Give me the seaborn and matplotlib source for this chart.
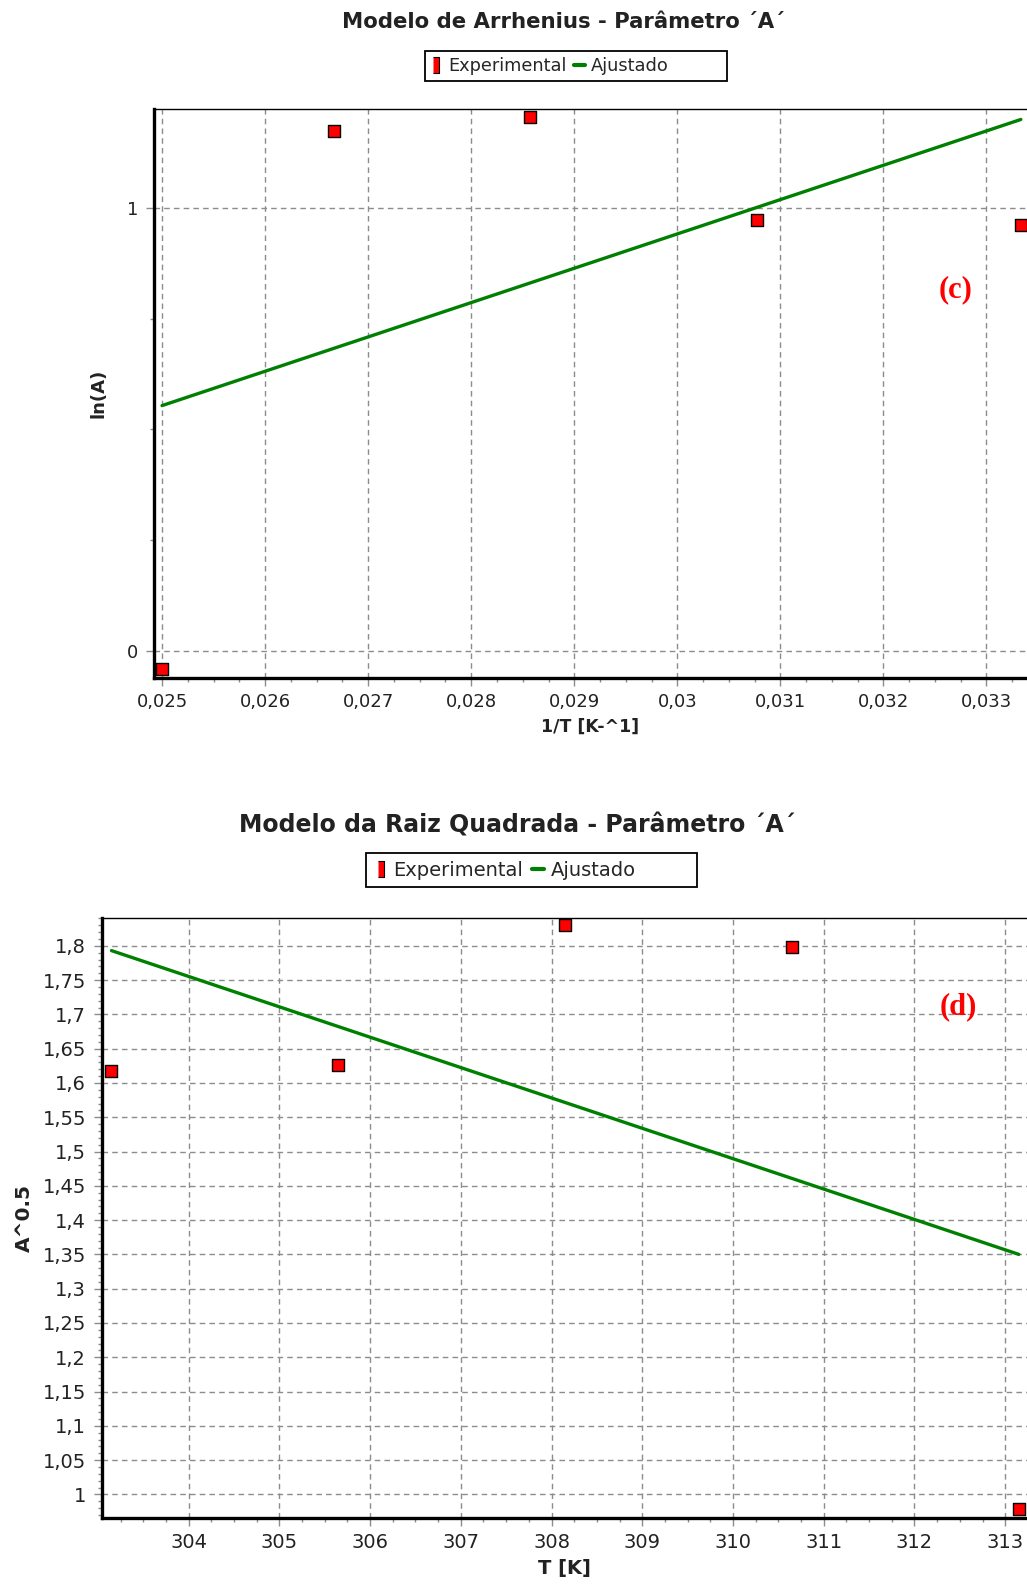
import numpy as np
import pandas as pd
import matplotlib
matplotlib.use("Agg")
import matplotlib.pyplot as plt
from matplotlib.ticker import MultipleLocator, FuncFormatter
from matplotlib.lines import Line2D
from matplotlib.patches import Rectangle
import seaborn as sns

# --- Arrhenius model: ln(A) vs 1/T ---
inv_T = [1 / 40, 1 / 37.5, 1 / 35, 1 / 32.5, 1 / 30]
ln_A = [-0.041, 1.174, 1.206, 0.973, 0.963]
inv_T_fit = [0.025, 1 / 30]
ln_A_fit = [0.554, 1.201]

# --- Square-root model: A^0.5 vs T ---
T_K = [303.15, 305.65, 308.15, 310.65, 313.15]
sqrt_A = [1.617, 1.626, 1.831, 1.798, 0.978]
T_fit = [303.15, 313.15]
sqrt_A_fit = [1.793, 1.350]

sns.set_style("white")
plt.rcParams["font.family"] = ["DejaVu Sans"]

W, H = 1027, 1587
fig = plt.figure(figsize=(W / 100, H / 100), dpi=100)

RED = "#ff0000"
GREEN = "#008000"
GRID = "#8c8c8c"
TXT = "#222222"


def axes_px(left, top, right, bottom):
    return fig.add_axes([left / W, 1 - bottom / H, (right - left) / W, (bottom - top) / H])


def comma(v, pos=None):
    s = f"{round(v, 4):g}"
    return s.replace(".", ",")


def style_axes(ax, tick_size):
    for side in ("left", "bottom"):
        ax.spines[side].set_linewidth(2.4)
        ax.spines[side].set_color("black")
    ax.spines["top"].set_linewidth(1.0)
    ax.spines["top"].set_color("black")
    ax.spines["right"].set_visible(False)
    ax.grid(True, which="major", color=GRID, linestyle=(0, (4, 3)), linewidth=1.0)
    ax.tick_params(which="major", direction="out", length=6, width=1, color=GRID,
                   labelsize=tick_size, labelcolor=TXT, pad=5)
    ax.tick_params(which="minor", direction="out", length=3, width=1, color=GRID)
    ax.tick_params(left=True, bottom=True, which="both")
    ax.xaxis.set_major_formatter(FuncFormatter(comma))
    ax.yaxis.set_major_formatter(FuncFormatter(comma))
    ax.set_axisbelow(True)


def make_legend(x_left, box, size):
    # box: left, top, right, bottom in pixels
    l, t, r, b = box
    fig.patches.append(Rectangle((l / W, 1 - b / H), (r - l) / W, (b - t) / H,
                                 transform=fig.transFigure, fill=False,
                                 edgecolor="black", linewidth=1.3))
    handles = [
        Line2D([], [], linestyle="none",
               marker=[(-0.35, -1), (0.35, -1), (0.35, 1), (-0.35, 1)],
               markersize=size * 0.85, markerfacecolor=RED, markeredgecolor="black",
               markeredgewidth=0.8),
        Line2D([], [], color=GREEN, linewidth=3),
    ]
    fig.legend(handles, ["Experimental", "Ajustado"], loc="center left",
               bbox_to_anchor=(x_left / W, 1 - (t + b) / 2 / H), ncol=2,
               fontsize=size, frameon=False, handlelength=0.6,
               handletextpad=0.35, columnspacing=0.45, borderpad=0,
               borderaxespad=0)


# ---------------- top panel ----------------
ax1 = axes_px(153.8, 109.3, 1027, 678)
df1 = pd.DataFrame({"x": inv_T, "y": ln_A})
fit1 = pd.DataFrame({"x": inv_T_fit, "y": ln_A_fit})
sns.lineplot(data=fit1, x="x", y="y", ax=ax1, color=GREEN, linewidth=2.4, zorder=3)
sns.scatterplot(data=df1, x="x", y="y", ax=ax1, marker="s", s=75, color=RED,
                edgecolor="black", linewidth=1.0, zorder=4)
ax1.set_xlim(0.02492, 0.033393)
ax1.set_ylim(-0.062, 1.224)
ax1.xaxis.set_major_locator(MultipleLocator(0.001))
ax1.xaxis.set_minor_locator(MultipleLocator(0.00025))
ax1.yaxis.set_major_locator(MultipleLocator(1))
ax1.yaxis.set_minor_locator(MultipleLocator(0.25))
style_axes(ax1, 13)
ax1.set_xlabel("1/T [K-^1]", fontsize=12.5, fontweight="bold", labelpad=5, color=TXT)
ax1.set_ylabel("ln(A)", fontsize=13, fontweight="bold", labelpad=14, color=TXT)

fig.text(563 / W, 1 - 22 / H, "Modelo de Arrhenius - Parâmetro ´A´", ha="center",
         va="center", fontsize=15.3, fontweight="bold", color=TXT)
make_legend(431, (425, 50.6, 726.5, 81), 12.8)
fig.text(956 / W, 1 - 290 / H, "(c)", ha="center", va="center", color=RED,
         fontsize=22, fontweight="bold", family=["Liberation Serif", "DejaVu Serif"])

# ---------------- bottom panel ----------------
ax2 = axes_px(101.5, 917.7, 1027, 1517.7)
df2 = pd.DataFrame({"x": T_K, "y": sqrt_A})
fit2 = pd.DataFrame({"x": T_fit, "y": sqrt_A_fit})
sns.lineplot(data=fit2, x="x", y="y", ax=ax2, color=GREEN, linewidth=2.4, zorder=3)
sns.scatterplot(data=df2, x="x", y="y", ax=ax2, marker="s", s=75, color=RED,
                edgecolor="black", linewidth=1.0, zorder=4)
ax2.set_xlim(303.04, 313.24)
ax2.set_ylim(0.966, 1.841)
ax2.xaxis.set_major_locator(MultipleLocator(1))
ax2.xaxis.set_minor_locator(MultipleLocator(0.25))
ax2.yaxis.set_major_locator(MultipleLocator(0.05))
ax2.yaxis.set_minor_locator(MultipleLocator(0.01))
style_axes(ax2, 14)
ax2.set_xlabel("T [K]", fontsize=14, fontweight="bold", labelpad=5, color=TXT)
ax2.set_ylabel("A^0.5", fontsize=14.5, fontweight="bold", labelpad=6, color=TXT)

fig.text(517 / W, 1 - 825 / H, "Modelo da Raiz Quadrada - Parâmetro ´A´", ha="center",
         va="center", fontsize=17, fontweight="bold", color=TXT)
make_legend(375, (366, 853, 697, 887), 14)
fig.text(958 / W, 1 - 1007 / H, "(d)", ha="center", va="center", color=RED,
         fontsize=22, fontweight="bold", family=["Liberation Serif", "DejaVu Serif"])

fig.savefig("out.png", dpi=100)
